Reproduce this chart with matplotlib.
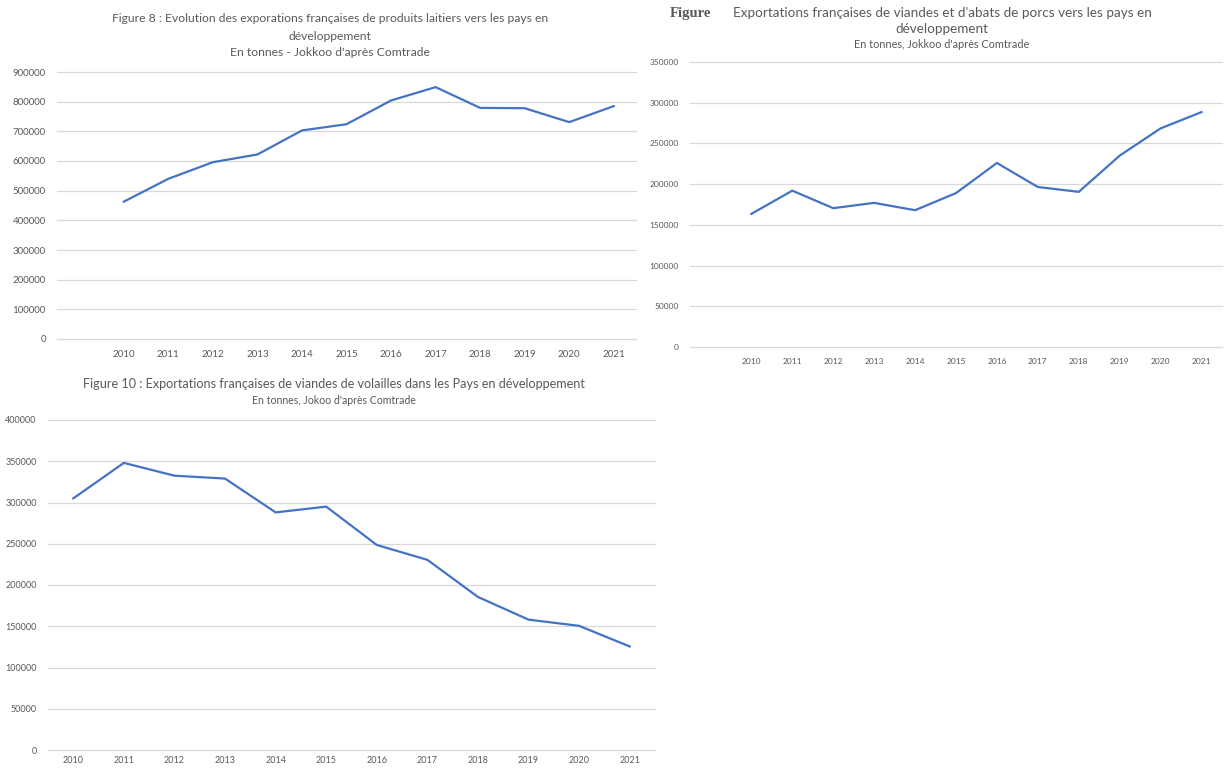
import matplotlib
matplotlib.use("Agg")
import matplotlib.pyplot as plt

# données (tonnes)
annees = ['2010', '2011', '2012', '2013', '2014', '2015',
          '2016', '2017', '2018', '2019', '2020', '2021']
laitiers = [463000, 540000, 596000, 622000, 703000, 724000,
            804000, 849000, 779000, 778000, 731000, 785000]
porcs = [163500, 192000, 170500, 177000, 168000, 189000,
         226000, 196500, 190500, 235000, 268500, 288500]
volailles = [305000, 348000, 332500, 329000, 288000, 295000,
             248500, 230500, 185500, 158000, 150500, 125500]

BLEU = '#4472C4'
GRIS = '#595959'
plt.rcParams['font.family'] = ['Lato', 'DejaVu Sans']

fig = plt.figure(figsize=(12.25, 7.69), dpi=100)
W, H = 1225, 769


def boite(x0, y0, x1, y1):
    # coordonnées en pixels (haut gauche) -> fraction de figure
    return [x0 / W, 1 - y1 / H, (x1 - x0) / W, (y1 - y0) / H]


def style_axe(ax, ymax, pas, xmin, fs, xpad):
    ax.set_ylim(0, ymax)
    ax.set_yticks(range(0, ymax + 1, pas))
    ax.set_yticklabels([str(v) for v in range(0, ymax + 1, pas)])
    ax.set_xlim(xmin, len(annees) - 0.5)
    ax.set_xticks(range(len(annees)))
    ax.set_xticklabels(annees)
    ax.grid(axis='y', color='#D9D9D9', linewidth=0.9)
    for g in ax.get_ygridlines():
        g.set_clip_on(False)
    ax.set_axisbelow(True)
    for s in ax.spines.values():
        s.set_visible(False)
    ax.tick_params(length=0, labelsize=fs, colors=GRIS)
    ax.tick_params(axis='x', pad=xpad)
    ax.tick_params(axis='y', pad=8)


# Figure 8 : produits laitiers
ax1 = fig.add_axes(boite(57, 72, 636, 339))
ax1.plot(range(len(annees)), laitiers, color=BLEU, linewidth=1.6)
style_axe(ax1, 900000, 100000, -1.5, 7, 8)
fig.text(330 / W, 1 - 19 / H,
         "Figure 8 : Evolution des exporations françaises de produits laitiers vers les pays en",
         ha='center', va='center', fontsize=8.7, color=GRIS)
fig.text(330 / W, 1 - 36 / H, "développement",
         ha='center', va='center', fontsize=8.7, color=GRIS)
fig.text(330 / W, 1 - 53 / H, "En tonnes - Jokkoo d'après Comtrade",
         ha='center', va='center', fontsize=8.7, color=GRIS)

# Figure : porcs
ax2 = fig.add_axes(boite(690, 62, 1222, 347))
ax2.plot(range(len(annees)), porcs, color=BLEU, linewidth=1.6)
style_axe(ax2, 350000, 50000, -1.5, 6, 8)
fig.text(670 / W, 1 - 13 / H, "Figure", ha='left', va='center',
         fontsize=10.5, fontweight='bold', family='Liberation Serif', color=GRIS)
fig.text(942 / W, 1 - 13 / H,
         "Exportations françaises de viandes et d'abats de porcs vers les pays en",
         ha='center', va='center', fontsize=9.7, color=GRIS)
fig.text(942 / W, 1 - 29 / H, "développement",
         ha='center', va='center', fontsize=9.7, color=GRIS)
fig.text(942 / W, 1 - 44 / H, "En tonnes, Jokkoo d'après Comtrade",
         ha='center', va='center', fontsize=7.8, color=GRIS)

# Figure 10 : volailles
ax3 = fig.add_axes(boite(48, 420, 655, 750))
ax3.plot(range(len(annees)), volailles, color=BLEU, linewidth=1.6)
style_axe(ax3, 400000, 50000, -0.5, 6.5, 4)
fig.text(334 / W, 1 - 384 / H,
         "Figure 10 : Exportations françaises de viandes de volailles dans les Pays en développement",
         ha='center', va='center', fontsize=9.1, color=GRIS)
fig.text(334 / W, 1 - 400 / H, "En tonnes, Jokoo d'après Comtrade",
         ha='center', va='center', fontsize=7.6, color=GRIS)

fig.savefig('out.png', dpi=100)
